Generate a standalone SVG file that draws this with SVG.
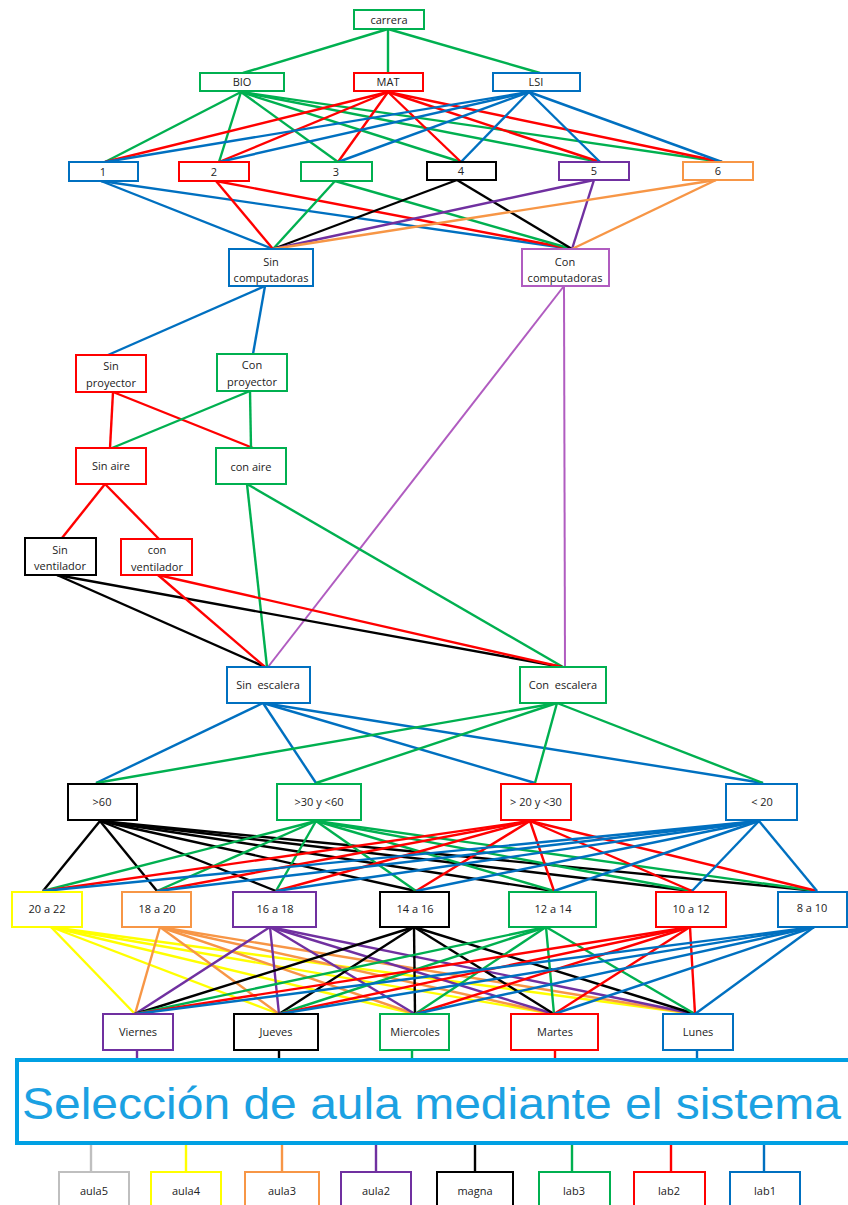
<svg xmlns="http://www.w3.org/2000/svg" width="848" height="1205" viewBox="0 0 848 1205">
<style>
.n rect{fill:#fff;stroke-width:2}
.n text{font-family:"Open Sans","Liberation Sans",sans-serif;font-size:11px;fill:#222;text-anchor:middle;white-space:pre}
.gr{stroke:#00b050}.rd{stroke:#ff0000}.bl{stroke:#0070c0}.bk{stroke:#000}.pu{stroke:#7030a0}.or{stroke:#f79646}.ye{stroke:#ffff00}.mg{stroke:#b05cc0}.gy{stroke:#bfbfbf}
#connectors line{stroke-width:2.4;fill:none}
</style>
<rect width="848" height="1205" fill="#fff"/>
<g id="connectors">
<g class="gr"><line x1="388" y1="29" x2="243" y2="73"/><line x1="388" y1="29" x2="388" y2="73"/><line x1="388" y1="29" x2="540" y2="73"/></g>
<g class="gr"><line x1="241" y1="92" x2="105" y2="162"/><line x1="241" y1="92" x2="219" y2="162"/><line x1="241" y1="92" x2="338" y2="162"/><line x1="241" y1="92" x2="461" y2="162"/><line x1="241" y1="92" x2="600" y2="162"/><line x1="241" y1="92" x2="722" y2="162"/></g>
<g class="rd"><line x1="388" y1="92" x2="105" y2="162"/><line x1="388" y1="92" x2="219" y2="162"/><line x1="388" y1="92" x2="338" y2="162"/><line x1="388" y1="92" x2="461" y2="162"/><line x1="388" y1="92" x2="600" y2="162"/><line x1="388" y1="92" x2="722" y2="162"/></g>
<g class="bl"><line x1="529" y1="92" x2="105" y2="162"/><line x1="529" y1="92" x2="219" y2="162"/><line x1="529" y1="92" x2="338" y2="162"/><line x1="529" y1="92" x2="461" y2="162"/><line x1="529" y1="92" x2="600" y2="162"/><line x1="529" y1="92" x2="722" y2="162"/></g>
<g class="bl"><line x1="101" y1="181" x2="273" y2="249"/><line x1="101" y1="181" x2="572" y2="249"/></g>
<g class="rd"><line x1="216" y1="181" x2="273" y2="249"/><line x1="216" y1="181" x2="572" y2="249"/></g>
<g class="gr"><line x1="335" y1="181" x2="273" y2="249"/><line x1="335" y1="181" x2="572" y2="249"/></g>
<g class="bk"><line x1="457" y1="180" x2="273" y2="249"/><line x1="457" y1="180" x2="572" y2="249"/></g>
<g class="pu"><line x1="594" y1="180" x2="273" y2="249"/><line x1="594" y1="180" x2="572" y2="249"/></g>
<g class="or"><line x1="716" y1="180" x2="273" y2="249"/><line x1="716" y1="180" x2="572" y2="249"/></g>
<g class="bl"><line x1="265" y1="286" x2="108" y2="355"/><line x1="265" y1="286" x2="253" y2="354"/></g>
<g class="mg"><line x1="564" y1="286" x2="268" y2="667" style="stroke-width:2"/><line x1="564" y1="286" x2="565" y2="667" style="stroke-width:2"/></g>
<g class="rd"><line x1="113" y1="392" x2="110" y2="448"/><line x1="113" y1="392" x2="253" y2="448"/></g>
<g class="gr"><line x1="250" y1="391" x2="112" y2="448"/><line x1="250" y1="391" x2="251" y2="448"/></g>
<g class="rd"><line x1="105" y1="484" x2="62" y2="538"/><line x1="105" y1="484" x2="159" y2="539"/></g>
<g class="gr"><line x1="247" y1="484" x2="267" y2="667"/><line x1="247" y1="484" x2="563" y2="667"/></g>
<g class="bk"><line x1="57" y1="575" x2="265" y2="667"/><line x1="57" y1="575" x2="562" y2="667"/></g>
<g class="rd"><line x1="158" y1="575" x2="265" y2="667"/><line x1="158" y1="575" x2="562" y2="667"/></g>
<g class="bl"><line x1="263" y1="703" x2="96" y2="783"/><line x1="263" y1="703" x2="316" y2="783"/><line x1="263" y1="703" x2="535" y2="783"/><line x1="263" y1="703" x2="763" y2="783"/></g>
<g class="gr"><line x1="557" y1="703" x2="96" y2="783"/><line x1="557" y1="703" x2="316" y2="783"/><line x1="557" y1="703" x2="535" y2="783"/><line x1="557" y1="703" x2="763" y2="783"/></g>
<g class="bk"><line x1="100" y1="821" x2="43" y2="891"/><line x1="100" y1="821" x2="157" y2="891"/><line x1="100" y1="821" x2="276" y2="891"/><line x1="100" y1="821" x2="416" y2="891"/><line x1="100" y1="821" x2="554" y2="891"/><line x1="100" y1="821" x2="692" y2="891"/><line x1="100" y1="821" x2="817" y2="891"/></g>
<g class="gr"><line x1="316" y1="821" x2="43" y2="891"/><line x1="316" y1="821" x2="157" y2="891"/><line x1="316" y1="821" x2="276" y2="891"/><line x1="316" y1="821" x2="416" y2="891"/><line x1="316" y1="821" x2="554" y2="891"/><line x1="316" y1="821" x2="692" y2="891"/><line x1="316" y1="821" x2="817" y2="891"/></g>
<g class="rd"><line x1="530" y1="821" x2="43" y2="891"/><line x1="530" y1="821" x2="157" y2="891"/><line x1="530" y1="821" x2="276" y2="891"/><line x1="530" y1="821" x2="416" y2="891"/><line x1="530" y1="821" x2="554" y2="891"/><line x1="530" y1="821" x2="692" y2="891"/><line x1="530" y1="821" x2="817" y2="891"/></g>
<g class="bl"><line x1="759" y1="821" x2="43" y2="891"/><line x1="759" y1="821" x2="157" y2="891"/><line x1="759" y1="821" x2="276" y2="891"/><line x1="759" y1="821" x2="416" y2="891"/><line x1="759" y1="821" x2="554" y2="891"/><line x1="759" y1="821" x2="692" y2="891"/><line x1="759" y1="821" x2="817" y2="891"/></g>
<g class="ye"><line x1="51" y1="927" x2="135" y2="1014"/><line x1="51" y1="927" x2="279" y2="1014"/><line x1="51" y1="927" x2="415" y2="1014"/><line x1="51" y1="927" x2="554" y2="1014"/><line x1="51" y1="927" x2="695" y2="1014"/></g>
<g class="or"><line x1="160" y1="927" x2="135" y2="1014"/><line x1="160" y1="927" x2="279" y2="1014"/><line x1="160" y1="927" x2="415" y2="1014"/><line x1="160" y1="927" x2="554" y2="1014"/><line x1="160" y1="927" x2="695" y2="1014"/></g>
<g class="pu"><line x1="270" y1="927" x2="135" y2="1014"/><line x1="270" y1="927" x2="279" y2="1014"/><line x1="270" y1="927" x2="415" y2="1014"/><line x1="270" y1="927" x2="554" y2="1014"/><line x1="270" y1="927" x2="695" y2="1014"/></g>
<g class="bk"><line x1="414" y1="927" x2="135" y2="1014"/><line x1="414" y1="927" x2="279" y2="1014"/><line x1="414" y1="927" x2="415" y2="1014"/><line x1="414" y1="927" x2="554" y2="1014"/><line x1="414" y1="927" x2="695" y2="1014"/></g>
<g class="gr"><line x1="546" y1="927" x2="135" y2="1014"/><line x1="546" y1="927" x2="279" y2="1014"/><line x1="546" y1="927" x2="415" y2="1014"/><line x1="546" y1="927" x2="554" y2="1014"/><line x1="546" y1="927" x2="695" y2="1014"/></g>
<g class="rd"><line x1="690" y1="927" x2="135" y2="1014"/><line x1="690" y1="927" x2="279" y2="1014"/><line x1="690" y1="927" x2="415" y2="1014"/><line x1="690" y1="927" x2="554" y2="1014"/><line x1="690" y1="927" x2="695" y2="1014"/></g>
<g class="bl"><line x1="814" y1="927" x2="135" y2="1014"/><line x1="814" y1="927" x2="279" y2="1014"/><line x1="814" y1="927" x2="415" y2="1014"/><line x1="814" y1="927" x2="554" y2="1014"/><line x1="814" y1="927" x2="695" y2="1014"/></g>
<line class="pu" x1="137" y1="1050" x2="137" y2="1060"/>
<line class="bk" x1="279" y1="1050" x2="279" y2="1060"/>
<line class="gr" x1="412" y1="1050" x2="412" y2="1060"/>
<line class="rd" x1="555" y1="1050" x2="555" y2="1060"/>
<line class="bl" x1="697" y1="1050" x2="697" y2="1060"/>
<line class="gy" x1="91" y1="1144" x2="91" y2="1172"/>
<line class="ye" x1="186" y1="1144" x2="186" y2="1172"/>
<line class="or" x1="282" y1="1144" x2="282" y2="1172"/>
<line class="pu" x1="376" y1="1144" x2="376" y2="1172"/>
<line class="bk" x1="475" y1="1144" x2="475" y2="1172"/>
<line class="gr" x1="572" y1="1144" x2="572" y2="1172"/>
<line class="rd" x1="671" y1="1144" x2="671" y2="1172"/>
<line class="bl" x1="764" y1="1144" x2="764" y2="1172"/>
</g>
<g id="carrera" class="n"><rect class="gr" x="354" y="10" width="70" height="19"/><text x="389" y="23.5">carrera</text></g>
<g id="bio" class="n"><rect class="gr" x="200" y="73" width="84" height="18"/><text x="242" y="86">BIO</text></g>
<g id="mat" class="n"><rect class="rd" x="354" y="73" width="69" height="18"/><text x="388" y="86">MAT</text></g>
<g id="lsi" class="n"><rect class="bl" x="493" y="73" width="87" height="18"/><text x="536" y="86">LSI</text></g>
<g id="s1" class="n"><rect class="bl" x="69" y="162" width="69" height="19"/><text x="103" y="176">1</text></g>
<g id="s2" class="n"><rect class="rd" x="179" y="162" width="70" height="19"/><text x="214" y="176">2</text></g>
<g id="s3" class="n"><rect class="gr" x="301" y="162" width="71" height="19"/><text x="336" y="176">3</text></g>
<g id="s4" class="n"><rect class="bk" x="427" y="162" width="69" height="18"/><text x="461" y="175">4</text></g>
<g id="s5" class="n"><rect class="pu" x="559" y="162" width="70" height="18"/><text x="594" y="175">5</text></g>
<g id="s6" class="n"><rect class="or" x="683" y="162" width="70" height="18"/><text x="718" y="175">6</text></g>
<g id="sincomp" class="n"><rect class="bl" x="229" y="249" width="84" height="37"/><text x="271" y="266">Sin</text><text x="271" y="282">computadoras</text></g>
<g id="concomp" class="n"><rect class="mg" x="522" y="249" width="87" height="37"/><text x="565" y="266">Con</text><text x="565" y="282">computadoras</text></g>
<g id="sinproy" class="n"><rect class="rd" x="76" y="355" width="70" height="37"/><text x="111" y="370">Sin</text><text x="111" y="387">proyector</text></g>
<g id="conproy" class="n"><rect class="gr" x="217" y="354" width="70" height="37"/><text x="252" y="369">Con</text><text x="252" y="386">proyector</text></g>
<g id="sinaire" class="n"><rect class="rd" x="76" y="448" width="70" height="36"/><text x="111" y="470">Sin aire</text></g>
<g id="conaire" class="n"><rect class="gr" x="216" y="448" width="70" height="36"/><text x="251" y="471">con aire</text></g>
<g id="sinvent" class="n"><rect class="bk" x="25" y="538" width="71" height="37"/><text x="60" y="554">Sin</text><text x="60" y="570">ventilador</text></g>
<g id="convent" class="n"><rect class="rd" x="121" y="539" width="71" height="36"/><text x="157" y="554">con</text><text x="157" y="571">ventilador</text></g>
<g id="sinesc" class="n"><rect class="bl" x="227" y="667" width="83" height="36"/><text x="268" y="689" xml:space="preserve">Sin  escalera</text></g>
<g id="conesc" class="n"><rect class="gr" x="520" y="667" width="86" height="36"/><text x="563" y="689" xml:space="preserve">Con  escalera</text></g>
<g id="c60" class="n"><rect class="bk" x="68" y="784" width="69" height="36"/><text x="102" y="806">&gt;60</text></g>
<g id="c30" class="n"><rect class="gr" x="277" y="784" width="84" height="36"/><text x="319" y="806">&gt;30 y &lt;60</text></g>
<g id="c20" class="n"><rect class="rd" x="501" y="784" width="70" height="36"/><text x="536" y="806">&gt; 20 y &lt;30</text></g>
<g id="clt20" class="n"><rect class="bl" x="726" y="784" width="71" height="36"/><text x="762" y="806">&lt; 20</text></g>
<g id="t2022" class="n"><rect class="ye" x="12" y="892" width="70" height="35"/><text x="47" y="913">20 a 22</text></g>
<g id="t1820" class="n"><rect class="or" x="122" y="892" width="69" height="35"/><text x="157" y="913">18 a 20</text></g>
<g id="t1618" class="n"><rect class="pu" x="233" y="892" width="83" height="35"/><text x="275" y="913">16 a 18</text></g>
<g id="t1416" class="n"><rect class="bk" x="380" y="892" width="69" height="35"/><text x="415" y="913">14 a 16</text></g>
<g id="t1214" class="n"><rect class="gr" x="509" y="892" width="87" height="35"/><text x="553" y="913">12 a 14</text></g>
<g id="t1012" class="n"><rect class="rd" x="656" y="892" width="70" height="35"/><text x="691" y="913">10 a 12</text></g>
<g id="t810" class="n"><rect class="bl" x="778" y="892" width="69" height="35"/><text x="812" y="912">8 a 10</text></g>
<g id="viernes" class="n"><rect class="pu" x="103" y="1014" width="70" height="36"/><text x="138" y="1036">Viernes</text></g>
<g id="jueves" class="n"><rect class="bk" x="234" y="1014" width="84" height="36"/><text x="276" y="1036">Jueves</text></g>
<g id="miercoles" class="n"><rect class="gr" x="380" y="1014" width="69" height="36"/><text x="415" y="1036">Miercoles</text></g>
<g id="martes" class="n"><rect class="rd" x="511" y="1014" width="87" height="36"/><text x="555" y="1036">Martes</text></g>
<g id="lunes" class="n"><rect class="bl" x="663" y="1014" width="70" height="36"/><text x="698" y="1036">Lunes</text></g>
<g id="sistema"><rect x="17" y="1060" width="840" height="83" fill="#fff" stroke="#00a0e3" stroke-width="4"/><text x="22" y="1119" textLength="819" lengthAdjust="spacingAndGlyphs" style="font-family:'Liberation Sans',Arial,sans-serif;font-size:44px;fill:#1ba1e2">Selección de aula mediante el sistema</text></g>
<g id="aula5" class="n"><rect class="gy" x="59" y="1172" width="70" height="45"/><text x="94" y="1195">aula5</text></g>
<g id="aula4" class="n"><rect class="ye" x="151" y="1172" width="70" height="45"/><text x="186" y="1195">aula4</text></g>
<g id="aula3" class="n"><rect class="or" x="245" y="1172" width="74" height="45"/><text x="282" y="1195">aula3</text></g>
<g id="aula2" class="n"><rect class="pu" x="341" y="1172" width="70" height="45"/><text x="376" y="1195">aula2</text></g>
<g id="magna" class="n"><rect class="bk" x="437" y="1172" width="76" height="45"/><text x="475" y="1195">magna</text></g>
<g id="lab3" class="n"><rect class="gr" x="539" y="1172" width="71" height="45"/><text x="574" y="1195">lab3</text></g>
<g id="lab2" class="n"><rect class="rd" x="634" y="1172" width="71" height="45"/><text x="669" y="1195">lab2</text></g>
<g id="lab1" class="n"><rect class="bl" x="730" y="1172" width="70" height="45"/><text x="765" y="1195">lab1</text></g>
</svg>
